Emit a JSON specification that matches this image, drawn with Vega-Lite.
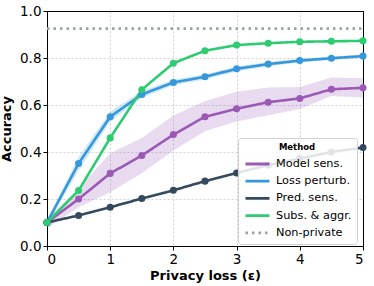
{
  "$schema": "https://vega.github.io/schema/vega-lite/v6.json",
  "width": 316,
  "height": 235,
  "autosize": {"type": "none"},
  "padding": {"left": 47, "top": 11, "right": 11, "bottom": 40},
  "config": {
    "font": "DejaVu Sans",
    "view": {"stroke": "black", "strokeWidth": 1},
    "axis": {
      "labelFont": "DejaVu Sans",
      "labelFontSize": 13.5,
      "labelColor": "black",
      "titleFont": "DejaVu Sans",
      "titleFontSize": 13,
      "titleFontWeight": "bold",
      "titleColor": "black",
      "domainColor": "black",
      "tickColor": "black",
      "tickSize": 4,
      "gridDash": [2, 2],
      "gridWidth": 0.8
    }
  },
  "data": {
    "values": [
      {"method": "Model sens.", "eps": 0, "acc": 0.1, "lo": 0.075, "hi": 0.117},
      {"method": "Model sens.", "eps": 0.5, "acc": 0.2, "lo": 0.165, "hi": 0.245},
      {"method": "Model sens.", "eps": 1, "acc": 0.309, "lo": 0.229, "hi": 0.395},
      {"method": "Model sens.", "eps": 1.5, "acc": 0.385, "lo": 0.31, "hi": 0.46},
      {"method": "Model sens.", "eps": 2, "acc": 0.474, "lo": 0.406, "hi": 0.555},
      {"method": "Model sens.", "eps": 2.5, "acc": 0.55, "lo": 0.488, "hi": 0.617},
      {"method": "Model sens.", "eps": 3, "acc": 0.584, "lo": 0.53, "hi": 0.656},
      {"method": "Model sens.", "eps": 3.5, "acc": 0.612, "lo": 0.556, "hi": 0.675},
      {"method": "Model sens.", "eps": 4, "acc": 0.628, "lo": 0.583, "hi": 0.677},
      {"method": "Model sens.", "eps": 4.5, "acc": 0.667, "lo": 0.638, "hi": 0.717},
      {"method": "Model sens.", "eps": 5, "acc": 0.673, "lo": 0.632, "hi": 0.714},
      {"method": "Loss perturb.", "eps": 0, "acc": 0.1, "lo": 0.09, "hi": 0.11},
      {"method": "Loss perturb.", "eps": 0.5, "acc": 0.351, "lo": 0.32, "hi": 0.38},
      {"method": "Loss perturb.", "eps": 1, "acc": 0.55, "lo": 0.53, "hi": 0.572},
      {"method": "Loss perturb.", "eps": 1.5, "acc": 0.645, "lo": 0.63, "hi": 0.66},
      {"method": "Loss perturb.", "eps": 2, "acc": 0.696, "lo": 0.684, "hi": 0.708},
      {"method": "Loss perturb.", "eps": 2.5, "acc": 0.72, "lo": 0.709, "hi": 0.731},
      {"method": "Loss perturb.", "eps": 3, "acc": 0.754, "lo": 0.743, "hi": 0.765},
      {"method": "Loss perturb.", "eps": 3.5, "acc": 0.774, "lo": 0.765, "hi": 0.783},
      {"method": "Loss perturb.", "eps": 4, "acc": 0.789, "lo": 0.781, "hi": 0.797},
      {"method": "Loss perturb.", "eps": 4.5, "acc": 0.799, "lo": 0.792, "hi": 0.806},
      {"method": "Loss perturb.", "eps": 5, "acc": 0.808, "lo": 0.801, "hi": 0.815},
      {"method": "Pred. sens.", "eps": 0, "acc": 0.1},
      {"method": "Pred. sens.", "eps": 0.5, "acc": 0.13},
      {"method": "Pred. sens.", "eps": 1, "acc": 0.165},
      {"method": "Pred. sens.", "eps": 1.5, "acc": 0.202},
      {"method": "Pred. sens.", "eps": 2, "acc": 0.237},
      {"method": "Pred. sens.", "eps": 2.5, "acc": 0.276},
      {"method": "Pred. sens.", "eps": 3, "acc": 0.311},
      {"method": "Pred. sens.", "eps": 3.5, "acc": 0.344},
      {"method": "Pred. sens.", "eps": 4, "acc": 0.372},
      {"method": "Pred. sens.", "eps": 4.5, "acc": 0.4},
      {"method": "Pred. sens.", "eps": 5, "acc": 0.419},
      {"method": "Subs. & aggr.", "eps": 0, "acc": 0.1},
      {"method": "Subs. & aggr.", "eps": 0.5, "acc": 0.236},
      {"method": "Subs. & aggr.", "eps": 1, "acc": 0.46},
      {"method": "Subs. & aggr.", "eps": 1.5, "acc": 0.665},
      {"method": "Subs. & aggr.", "eps": 2, "acc": 0.778},
      {"method": "Subs. & aggr.", "eps": 2.5, "acc": 0.831},
      {"method": "Subs. & aggr.", "eps": 3, "acc": 0.855},
      {"method": "Subs. & aggr.", "eps": 3.5, "acc": 0.863},
      {"method": "Subs. & aggr.", "eps": 4, "acc": 0.869},
      {"method": "Subs. & aggr.", "eps": 4.5, "acc": 0.871},
      {"method": "Subs. & aggr.", "eps": 5, "acc": 0.873},
      {"method": "Non-private", "eps": 0, "acc": 0.925},
      {"method": "Non-private", "eps": 5, "acc": 0.925}
    ]
  },
  "encoding": {
    "x": {
      "field": "eps", "type": "quantitative", "title": "Privacy loss (ε)",
      "scale": {"domain": [0, 5], "nice": false},
      "axis": {
        "values": [0, 1, 2, 3, 4, 5], "format": "d", "titlePadding": 4,
        "gridColor": {"condition": {"test": "datum.value == 5 || datum.value == 0", "value": "black"}, "value": "#c8c8c8"},
        "gridDash": {"condition": {"test": "datum.value == 5 || datum.value == 0", "value": [1, 0]}, "value": [2, 2]},
        "gridWidth": {"condition": {"test": "datum.value == 5 || datum.value == 0", "value": 1}, "value": 0.8}
      }
    },
    "y": {
      "field": "acc", "type": "quantitative", "title": "Accuracy",
      "scale": {"domain": [0, 1], "nice": false},
      "axis": {
        "values": [0, 0.2, 0.4, 0.6, 0.8, 1.0], "format": ".1f", "titlePadding": 6,
        "gridColor": {"condition": {"test": "datum.value >= 0.99 || datum.value == 0", "value": "black"}, "value": "#c8c8c8"},
        "gridDash": {"condition": {"test": "datum.value >= 0.99 || datum.value == 0", "value": [1, 0]}, "value": [2, 2]},
        "gridWidth": {"condition": {"test": "datum.value >= 0.99 || datum.value == 0", "value": 1}, "value": 0.8}
      }
    },
    "color": {
      "field": "method", "type": "nominal", "title": "Method",
      "scale": {
        "domain": ["Model sens.", "Loss perturb.", "Pred. sens.", "Subs. & aggr.", "Non-private"],
        "range": ["#9b59b6", "#3498db", "#34495e", "#2ecc71", "#95a5a6"]
      },
      "legend": {
        "orient": "none", "legendX": 191, "legendY": 127,
        "symbolType": "M-1.5,0H1.5", "symbolSize": 256, "symbolStrokeWidth": 2.8, "symbolOpacity": 1,
        "symbolOffset": 5,
        "labelFontSize": 11.3, "labelColor": "black", "labelOffset": 9,
        "titleFontSize": 8.5, "titleFontWeight": "bold", "titleColor": "black",
        "titleAnchor": "middle", "titlePadding": 3,
        "rowPadding": 1.2, "padding": 5,
        "strokeColor": "#d0d0d0", "fillColor": "rgba(255,255,255,0.85)", "cornerRadius": 3
      }
    }
  },
  "layer": [
    {
      "transform": [{"filter": "isValid(datum.lo)"}],
      "mark": {"type": "area", "opacity": 0.22},
      "encoding": {
        "y": {"field": "lo", "type": "quantitative"},
        "y2": {"field": "hi"}
      }
    },
    {
      "mark": {"type": "line", "strokeWidth": 2.6},
      "encoding": {
        "strokeDash": {
          "field": "method", "type": "nominal", "title": "Method",
          "scale": {
            "domain": ["Model sens.", "Loss perturb.", "Pred. sens.", "Subs. & aggr.", "Non-private"],
            "range": [[1, 0], [1, 0], [1, 0], [1, 0], [2.5, 4]]
          }
        }
      }
    },
    {
      "transform": [{"filter": "datum.method != 'Non-private'"}],
      "mark": {"type": "point", "filled": true, "opacity": 1, "size": 50},
      "encoding": {}
    }
  ]
}
